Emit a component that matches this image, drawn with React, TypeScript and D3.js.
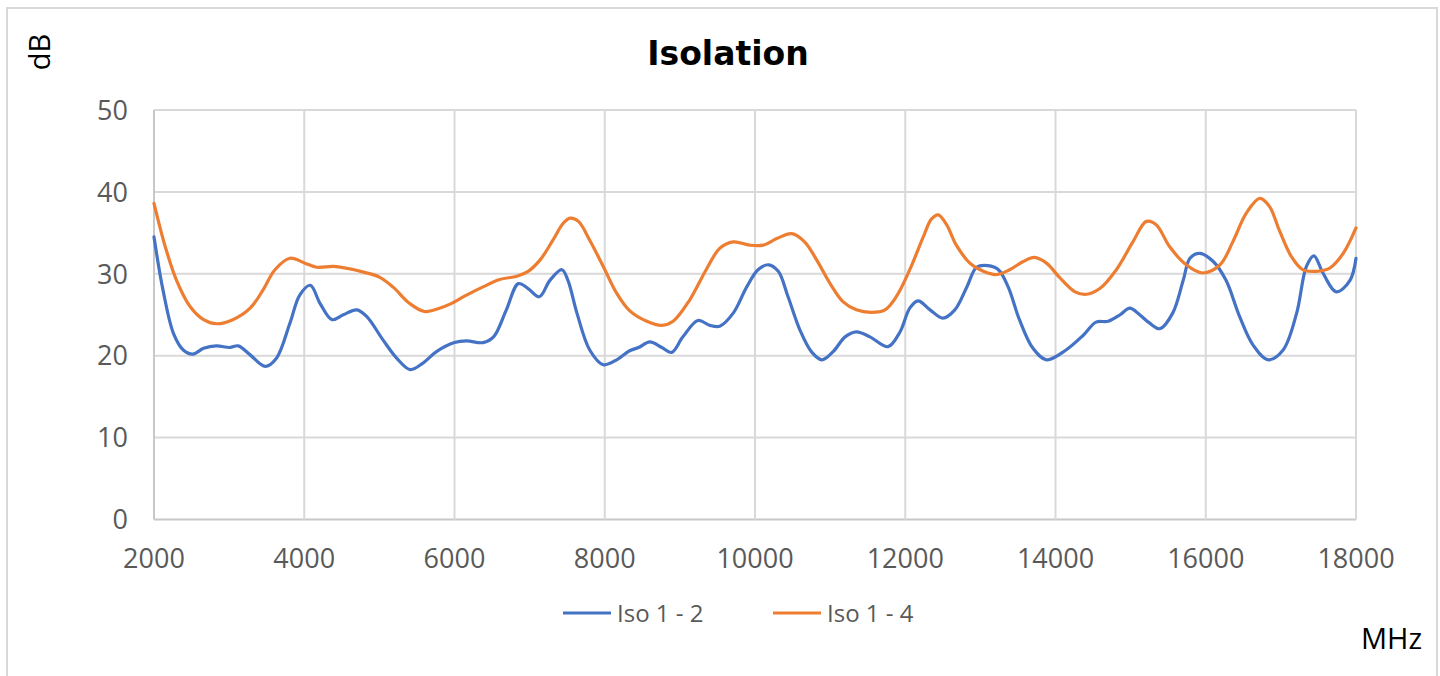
import * as d3 from "d3";

// frequency (MHz) / value (dB)
const iso12Freq = [2000, 2120, 2260, 2390, 2520, 2660, 2830, 3010, 3120, 3280, 3480, 3630, 3810, 3940, 4080, 4210, 4370, 4520, 4700, 4830, 5050, 5230, 5410, 5580, 5760, 6000, 6160, 6380, 6520, 6690, 6850, 6980, 7130, 7270, 7430, 7510, 7630, 7800, 7980, 8160, 8330, 8450, 8600, 8760, 8890, 9040, 9240, 9400, 9530, 9710, 9890, 10040, 10180, 10310, 10440, 10600, 10750, 10890, 11040, 11200, 11350, 11530, 11770, 11930, 12060, 12170, 12330, 12500, 12660, 12820, 12950, 13100, 13240, 13370, 13520, 13700, 13880, 14140, 14370, 14540, 14700, 14860, 14990, 15120, 15250, 15390, 15560, 15700, 15790, 15920, 16100, 16270, 16450, 16630, 16830, 17030, 17210, 17340, 17440, 17560, 17740, 17920, 18000];
const iso12 = [34.5, 28.0, 22.7, 20.7, 20.2, 20.9, 21.2, 21.0, 21.2, 20.1, 18.7, 19.7, 24.0, 27.4, 28.6, 26.4, 24.4, 25.0, 25.6, 24.8, 21.9, 19.7, 18.3, 19.1, 20.5, 21.6, 21.8, 21.6, 22.3, 25.6, 28.8, 28.2, 27.2, 29.2, 30.5, 29.2, 25.2, 20.7, 18.9, 19.5, 20.6, 21.0, 21.7, 21.0, 20.4, 22.3, 24.3, 23.7, 23.6, 25.2, 28.4, 30.5, 31.1, 30.3, 27.2, 23.1, 20.5, 19.5, 20.5, 22.3, 22.9, 22.3, 21.1, 22.9, 25.8, 26.7, 25.6, 24.6, 25.6, 28.4, 30.8, 31.0, 30.5, 28.4, 24.4, 20.9, 19.5, 20.7, 22.5, 24.1, 24.2, 25.0, 25.8, 25.0, 24.0, 23.3, 25.2, 29.2, 31.9, 32.5, 31.5, 29.2, 24.8, 21.3, 19.5, 20.7, 25.2, 30.9, 32.2, 30.1, 27.8, 29.2, 31.9];

const iso14Freq = [2000, 2150, 2300, 2480, 2660, 2830, 3050, 3280, 3450, 3610, 3810, 4010, 4165, 4390, 4610, 4790, 5000, 5180, 5400, 5600, 5800, 5940, 6160, 6380, 6600, 6830, 6980, 7140, 7310, 7450, 7540, 7650, 7800, 7980, 8160, 8330, 8560, 8760, 8910, 9130, 9350, 9530, 9710, 9930, 10110, 10290, 10490, 10660, 10820, 11000, 11170, 11350, 11550, 11730, 11880, 12060, 12240, 12350, 12440, 12550, 12680, 12860, 13040, 13210, 13390, 13570, 13720, 13880, 14050, 14260, 14410, 14590, 14810, 15030, 15210, 15340, 15520, 15740, 15960, 16190, 16360, 16540, 16720, 16850, 16980, 17140, 17290, 17470, 17650, 17830, 18000];
const iso14 = [38.6, 33.3, 29.2, 26.0, 24.4, 23.9, 24.4, 25.8, 28.0, 30.5, 31.9, 31.3, 30.8, 30.9, 30.6, 30.2, 29.6, 28.4, 26.4, 25.4, 25.8, 26.3, 27.4, 28.4, 29.3, 29.7, 30.3, 31.7, 34.1, 36.2, 36.8, 36.4, 34.1, 30.9, 27.6, 25.5, 24.2, 23.7, 24.2, 26.8, 30.5, 33.1, 33.9, 33.5, 33.5, 34.3, 34.9, 33.9, 31.7, 28.8, 26.6, 25.6, 25.3, 25.6, 27.2, 30.5, 34.5, 36.7, 37.2, 36.0, 33.5, 31.3, 30.3, 29.9, 30.5, 31.5, 32.0, 31.3, 29.6, 27.8, 27.5, 28.2, 30.5, 33.9, 36.4, 36.0, 33.3, 31.1, 30.1, 31.1, 33.9, 37.4, 39.2, 38.2, 35.3, 32.1, 30.5, 30.3, 30.7, 32.5, 35.6];

const xTicks = [2000, 4000, 6000, 8000, 10000, 12000, 14000, 16000, 18000];
const yTicks = [0, 10, 20, 30, 40, 50];

const series = [
  { name: "Iso 1 - 2", freq: iso12Freq, values: iso12, color: "#4472C4" },
  { name: "Iso 1 - 4", freq: iso14Freq, values: iso14, color: "#ED7D31" },
];

const W = 1440;
const H = 676;
const font = "'Century Gothic', 'Open Sans', sans-serif";

export default function App() {
  const x = d3.scaleLinear().domain([2000, 18000]).range([154, 1356]);
  const y = d3.scaleLinear().domain([0, 50]).range([519.5, 110]);

  const line = d3
    .line<[number, number]>()
    .x((d) => x(d[0]))
    .y((d) => y(d[1]))
    .curve(d3.curveCatmullRom.alpha(0.5));

  const legendX = [563, 773];

  return (
    <svg width={W} height={H} style={{ position: "absolute", left: 0, top: 0, background: "#fff" }}>
      <rect x={7} y={8} width={1430} height={720} fill="#fff" stroke="#d9d9d9" strokeWidth={2} />

      <text x={728} y={65} textAnchor="middle" fontFamily="'DejaVu Sans', Verdana, sans-serif" fontWeight="bold" fontSize={33} fill="#000">
        Isolation
      </text>
      <text transform="translate(50,52) rotate(-90)" textAnchor="middle" fontFamily={font} fontSize={29} fill="#000">
        dB
      </text>

      {/* grid */}
      {yTicks.map((t) => (
        <line key={"gy" + t} x1={x(2000)} x2={x(18000)} y1={y(t)} y2={y(t)} stroke={t === 0 ? "#c8c8c8" : "#d9d9d9"} strokeWidth={2} />
      ))}
      {xTicks.map((t) => (
        <line key={"gx" + t} x1={x(t)} x2={x(t)} y1={y(0)} y2={y(50)} stroke={t === 2000 ? "#c8c8c8" : "#d9d9d9"} strokeWidth={2} />
      ))}

      {/* tick labels */}
      {yTicks.map((t) => (
        <text key={"ly" + t} x={128} y={y(t)} dy="0.36em" textAnchor="end" fontFamily={font} fontSize={27} fill="#595959">
          {t}
        </text>
      ))}
      {xTicks.map((t) => (
        <text key={"lx" + t} x={x(t)} y={568} textAnchor="middle" fontFamily={font} fontSize={27} fill="#595959">
          {t}
        </text>
      ))}

      {/* series */}
      {series.map((s) => (
        <path
          key={s.name}
          d={line(s.freq.map((f, i) => [f, s.values[i]] as [number, number])) || ""}
          fill="none"
          stroke={s.color}
          strokeWidth={3.2}
          strokeLinejoin="round"
          strokeLinecap="round"
        />
      ))}

      {/* legend */}
      {series.map((s, i) => (
        <g key={"lg" + s.name} transform={`translate(${legendX[i]},613)`}>
          <line x1={0} x2={48} y1={0} y2={0} stroke={s.color} strokeWidth={3.2} />
          <text x={54} y={0} dy="0.36em" fontFamily={font} fontSize={24} fill="#595959">
            {s.name}
          </text>
        </g>
      ))}

      <text x={1422} y={649} textAnchor="end" fontFamily={font} fontSize={29} fill="#000">
        MHz
      </text>
    </svg>
  );
}
